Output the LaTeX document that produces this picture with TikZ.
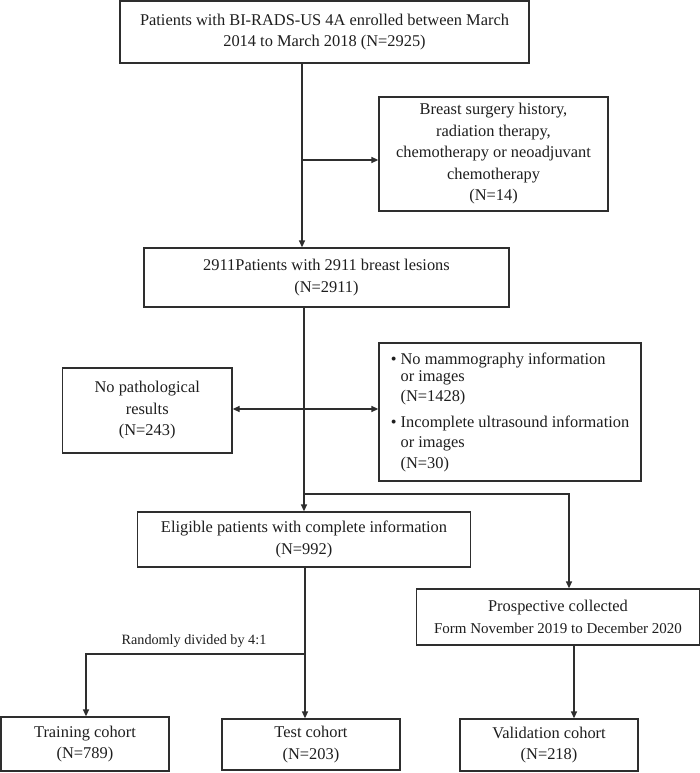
\documentclass[tikz,border=0pt]{standalone}
\usepackage{fontspec}
\setmainfont{Liberation Serif}
\usetikzlibrary{arrows.meta}
\definecolor{linec}{HTML}{2E2E2E}
\definecolor{textc}{HTML}{1E1E1E}
\newcommand\mainsz{\fontsize{16.4}{21.5}\selectfont}
\newcommand\labsz{\fontsize{14.2}{17}\selectfont}
\newcommand\subsz{\fontsize{15}{21.5}\selectfont}
\begin{document}
\begin{tikzpicture}[x=1pt,y=-1pt,
  box/.style={draw=linec, line width=1.3pt, inner sep=0pt, align=center, font=\mainsz, text=textc},
  conn/.style={draw=linec, line width=1.3pt},
  tip/.tip={Triangle[length=7pt,width=6pt]},
  arr/.style={conn, -tip},
]
\useasboundingbox (0,0) rectangle (700,773);
\fill[white] (0,0) rectangle (700,773);

\node[box, minimum width=409pt, minimum height=62pt] (b1) at (324.5,32)
  {Patients with BI-RADS-US 4A enrolled between March\\2014 to March 2018 (N=2925)};
\node[box, minimum width=229pt, minimum height=114pt] (b2) at (493.5,154)
  {Breast surgery history,\\radiation therapy,\\chemotherapy or neoadjuvant\\chemotherapy\\(N=14)};
\node[box, minimum width=365pt, minimum height=59pt] (b3) at (326.5,277.5)
  {2911Patients with 2911 breast lesions\\(N=2911)};
\node[box, minimum width=169.5pt, minimum height=85pt] (lbox) at (147.25,410.5)
  {No pathological\\results\\(N=243)};
\node[box, align=left, minimum width=262pt, minimum height=138pt] (rbox) at (510,412)
  {\textbullet\ No mammography information\\[-4.5pt]
   \phantom{\textbullet\ }or images\\[-1.5pt]
   \phantom{\textbullet\ }(N=1428)\\[4.5pt]
   \textbullet\ Incomplete ultrasound information\\[-1.5pt]
   \phantom{\textbullet\ }or images\\[-0.5pt]
   \phantom{\textbullet\ }(N=30)};
\node[box, minimum width=333pt, minimum height=55pt] (elig) at (304,539.5)
  {Eligible patients with complete information\\(N=992)};
\node[box, minimum width=283pt, minimum height=56pt] (pros) at (558,617)
  {Prospective collected\\{\subsz Form November 2019 to December 2020}};
\node[box, minimum width=168pt, minimum height=54pt] (train) at (85,744)
  {Training cohort\\(N=789)};
\node[box, minimum width=178pt, minimum height=51pt] (test) at (311,744.5)
  {Test cohort\\(N=203)};
\node[box, minimum width=178pt, minimum height=52pt] (val) at (549,745)
  {Validation cohort\\(N=218)};
\node[font=\labsz, text=textc, inner sep=0pt] (lab) at (194,641) {Randomly divided by 4:1};

\coordinate (c1) at (302,160);
\coordinate (c2) at (304,409);
\coordinate (c3) at (304,494);
\coordinate (c4) at (569,494);
\coordinate (c5) at (305,654);
\coordinate (c6) at (86,654);
\coordinate (c7) at (574,645);

\draw[arr] (b1.south -| c1) -- (b3.north -| c1);
\draw[arr] (c1) -- (c1 -| b2.west);
\draw[arr] (b3.south -| c2) -- (elig.north -| c2);
\draw[conn, tip-tip] (c2 -| lbox.east) -- (c2 -| rbox.west);
\draw[arr] (c3) -- (c4) -- (pros.north -| c4);
\draw[arr] (elig.south -| c5) -- (test.north -| c5);
\draw[arr] (c5) -- (c6) -- (train.north -| c6);
\draw[arr] (pros.south -| c7) -- (val.north -| c7);
\end{tikzpicture}
\end{document}
